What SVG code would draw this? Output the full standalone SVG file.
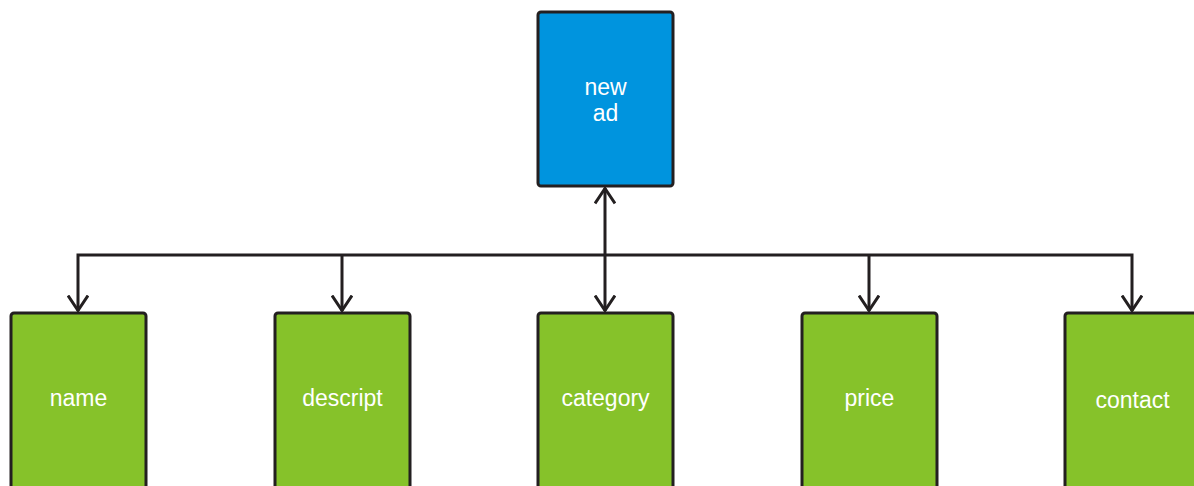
<svg xmlns="http://www.w3.org/2000/svg" width="1194" height="486" viewBox="0 0 1194 486">
<defs>
<style>
.box{stroke:#231f20;stroke-width:3}
.blue{fill:#0094de}
.green{fill:#86c22a}
.lbl{font-family:"Liberation Sans",Arial,sans-serif;font-size:23px;fill:#fff;text-anchor:middle}
.ln{stroke:#231f20;stroke-width:3;fill:none}
</style>
<marker id="ah" viewBox="0 0 18 22" refX="16.5" refY="11" markerWidth="18" markerHeight="22" markerUnits="userSpaceOnUse" orient="auto-start-reverse">
<path d="M1,1 L16,11 L1,21" fill="none" stroke="#231f20" stroke-width="3"/>
</marker>
</defs>
<g id="connectors">
<polyline class="ln" points="78,311 78,255 1132,255 1132,311" marker-start="url(#ah)" marker-end="url(#ah)"/>
<line class="ln" x1="342" y1="255" x2="342" y2="311" marker-end="url(#ah)"/>
<line class="ln" x1="869" y1="255" x2="869" y2="311" marker-end="url(#ah)"/>
<line class="ln" x1="605" y1="188" x2="605" y2="311" marker-start="url(#ah)" marker-end="url(#ah)"/>
</g>
<g id="new-ad"><rect class="box blue" x="538" y="12" width="135" height="174" rx="3"/><text class="lbl" x="605.5" y="95">new</text><text class="lbl" x="605.5" y="121">ad</text></g>
<g id="name"><rect class="box green" x="11" y="313" width="135" height="180" rx="3"/><text class="lbl" x="78.5" y="406">name</text></g>
<g id="descript"><rect class="box green" x="275" y="313" width="135" height="180" rx="3"/><text class="lbl" x="342.5" y="406">descript</text></g>
<g id="category"><rect class="box green" x="538" y="313" width="135" height="180" rx="3"/><text class="lbl" x="605.5" y="406">category</text></g>
<g id="price"><rect class="box green" x="802" y="313" width="135" height="180" rx="3"/><text class="lbl" x="869.5" y="406">price</text></g>
<g id="contact"><rect class="box green" x="1065" y="313" width="135" height="180" rx="3"/><text class="lbl" x="1132.5" y="408">contact</text></g>
</svg>
